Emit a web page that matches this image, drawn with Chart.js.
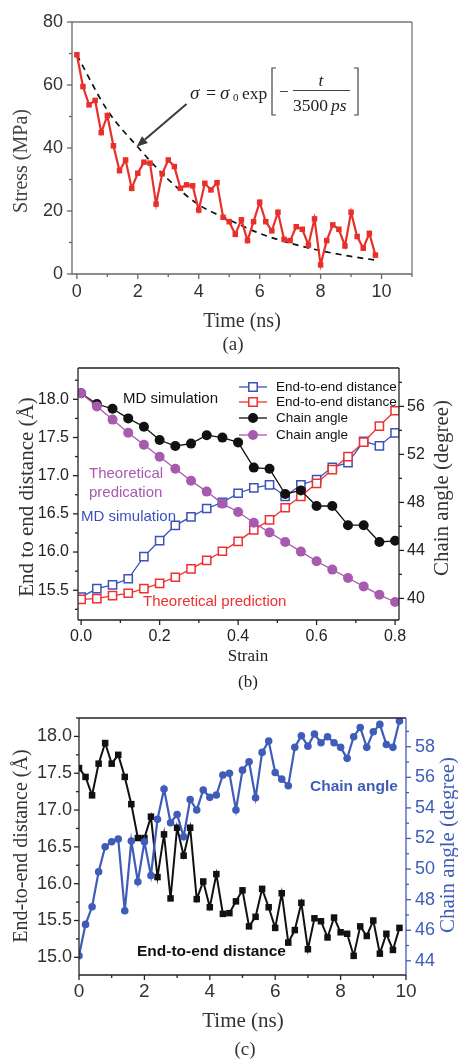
<!DOCTYPE html>
<html>
<head>
<meta charset="utf-8">
<script src="https://cdn.jsdelivr.net/npm/chart.js@4.4.0/dist/chart.umd.min.js"></script>
<style>
  body { margin: 0; background: #fff; }
  #wrap { position: relative; width: 458px; height: 1060px; overflow: hidden; background: #fff; }
  canvas { position: absolute; left: 0; }
</style>
</head>
<body>
<div id="wrap">
  <canvas id="chartA" width="458" height="355" style="top:0px"></canvas>
  <canvas id="chartB" width="458" height="335" style="top:355px"></canvas>
  <canvas id="chartC" width="458" height="370" style="top:690px"></canvas>
</div>
<script>
// ---- panel (a): stress relaxation ----
const timeA = [0, 0.2, 0.4, 0.6, 0.8, 1, 1.2, 1.4, 1.6, 1.8,
  2, 2.2, 2.4, 2.6, 2.8, 3, 3.2, 3.4, 3.6, 3.8,
  4, 4.2, 4.4, 4.6, 4.8, 5, 5.2, 5.4, 5.6, 5.8,
  6, 6.2, 6.4, 6.6, 6.8, 7, 7.2, 7.4, 7.6, 7.8,
  8, 8.2, 8.4, 8.6, 8.8, 9, 9.2, 9.4, 9.6, 9.8];
const stressA = [69.6, 59.5, 53.7, 55.1, 44.9, 50.3, 40.7, 32.8, 36.2, 27.2,
  32.0, 35.5, 35.2, 22.2, 31.8, 36.2, 34.1, 27.2, 28.3, 28.0,
  20.3, 28.8, 26.7, 29.0, 18.0, 16.6, 12.6, 17.2, 10.6, 16.6,
  22.8, 16.6, 13.7, 19.6, 11.0, 10.6, 15.0, 14.2, 9.2, 17.5,
  2.9, 10.6, 15.6, 14.2, 8.9, 19.6, 11.9, 8.2, 12.9, 6.0];
const fitTime = [0, 1, 2, 3, 4, 5, 6, 7, 8, 9, 9.8];
const fitStress = [69.5, 52, 40.3, 30, 22, 17.2, 12.9, 9.8, 7.4, 5.6, 4.4];
const arrowFrom = [3.6, 54.0];
const arrowTo = [1.96, 40.4];

// ---- panel (b): strain dependence ----
const strainB = [0, 0.04, 0.08, 0.12, 0.16, 0.2, 0.24, 0.28, 0.32, 0.36, 0.4,
  0.44, 0.48, 0.52, 0.56, 0.6, 0.64, 0.68, 0.72, 0.76, 0.8];
const distMD = [15.41, 15.52, 15.57, 15.65, 15.94, 16.15, 16.35, 16.46, 16.57, 16.65, 16.77,
  16.84, 16.88, 16.73, 16.88, 16.95, 17.11, 17.17, 17.45, 17.39, 17.56];
const distTheory = [15.38, 15.39, 15.43, 15.46, 15.52, 15.59, 15.67, 15.78, 15.89, 16.01, 16.14,
  16.29, 16.42, 16.58, 16.73, 16.90, 17.08, 17.25, 17.44, 17.65, 17.85];
const angleMD = [57.1, 56.2, 55.8, 55.0, 54.3, 53.2, 52.7, 52.9, 53.6, 53.4, 53.0,
  50.9, 50.8, 48.7, 49.0, 47.7, 47.7, 46.1, 46.1, 44.7, 44.8];
const angleTheory = [57.1, 56.0, 54.9, 53.8, 52.8, 51.8, 50.8, 49.8, 48.9, 47.9, 47.2,
  46.3, 45.5, 44.7, 43.9, 43.1, 42.4, 41.7, 41.0, 40.3, 39.7];
const legendB = ["End-to-end distance", "End-to-end distance", "Chain angle", "Chain angle"];

// ---- panel (c): time dependence ----
const timeC = [0, 0.2, 0.4, 0.6, 0.8, 1, 1.2, 1.4, 1.6, 1.8,
  2, 2.2, 2.4, 2.6, 2.8, 3, 3.2, 3.4, 3.6, 3.8,
  4, 4.2, 4.4, 4.6, 4.8, 5, 5.2, 5.4, 5.6, 5.8,
  6, 6.2, 6.4, 6.6, 6.8, 7, 7.2, 7.4, 7.6, 7.8,
  8, 8.2, 8.4, 8.6, 8.8, 9, 9.2, 9.4, 9.6, 9.8];
const distC = [17.57, 17.45, 17.20, 17.63, 17.91, 17.63, 17.75, 17.45, 17.08, 16.62,
  16.62, 16.91, 16.09, 16.67, 15.80, 16.76, 16.38, 16.76, 15.79, 16.03,
  15.68, 16.13, 15.59, 15.60, 15.76, 15.91, 15.42, 15.55, 15.93, 15.68,
  15.40, 15.87, 15.20, 15.37, 15.74, 15.11, 15.53, 15.49, 15.27, 15.54,
  15.34, 15.32, 15.02, 15.42, 15.29, 15.50, 15.05, 15.32, 15.10, 15.40];
const angleC = [44.33, 46.38, 47.53, 49.82, 51.46, 51.79, 51.96, 47.27, 51.83, 49.17,
  51.79, 49.58, 53.25, 55.23, 53.03, 53.57, 52.11, 54.55, 53.86, 55.17,
  54.69, 54.84, 56.15, 56.26, 53.86, 56.47, 57.02, 54.66, 57.63, 58.37,
  56.32, 55.88, 55.45, 57.96, 58.72, 58.04, 58.83, 58.26, 58.65, 58.26,
  57.96, 57.24, 58.65, 59.26, 57.96, 58.98, 59.46, 58.15, 57.96, 59.68];

const SERIF = '"Liberation Serif", "Times New Roman", serif';
const SANS = '"Liberation Sans", Arial, sans-serif';
const RED = "#e8302a";
const BLUE_B = "#3b52b6";
const RED_B = "#ee3030";
const PURPLE = "#a75aae";
const BLUE_C = "#3f5db8";

Chart.defaults.font.family = SANS;

function xy(xs, ys) {
  return xs.map((x, i) => ({ x: x, y: ys[i] }));
}

// fixed-size axis so the plot frame lands where the figure has it
function axis(pos, min, max, step, size, pad, color, fontSize, fmt) {
  return {
    type: "linear",
    position: pos,
    min: min,
    max: max,
    grid: { display: false, drawTicks: false },
    border: { display: false },
    ticks: {
      stepSize: step,
      includeBounds: false,
      padding: pad,
      color: color,
      font: { family: SANS, size: fontSize },
      callback: fmt
    },
    afterFit(s) {
      if (pos === "bottom") s.height = size; else s.width = size;
      s.paddingTop = 0; s.paddingBottom = 0; s.paddingLeft = 0; s.paddingRight = 0;
    }
  };
}

// frame + outward major/minor ticks
function axesPlugin(cfg) {
  return {
    id: "axes",
    afterDatasetsDraw(chart) {
      const ctx = chart.ctx;
      const a = chart.chartArea;
      ctx.save();
      ctx.lineWidth = cfg.lineWidth;
      const seg = (c, x1, y1, x2, y2) => {
        ctx.strokeStyle = c;
        ctx.beginPath();
        ctx.moveTo(x1, y1);
        ctx.lineTo(x2, y2);
        ctx.stroke();
      };
      seg(cfg.frame.top, a.left, a.top, a.right, a.top);
      seg(cfg.frame.bottom, a.left, a.bottom, a.right, a.bottom);
      seg(cfg.frame.left, a.left, a.top, a.left, a.bottom);
      seg(cfg.frame.right, a.right, a.top, a.right, a.bottom);
      cfg.ticks.forEach((t) => {
        const s = chart.scales[t.id];
        const k0 = Math.ceil(s.min / t.minor - 1e-6);
        const k1 = Math.floor(s.max / t.minor + 1e-6);
        for (let k = k0; k <= k1; k++) {
          const v = k * t.minor;
          const major = Math.abs(v / t.major - Math.round(v / t.major)) < 1e-6;
          const len = major ? t.len : t.len * 0.6;
          const p = s.getPixelForValue(v);
          if (t.side === "left") seg(t.color, a.left, p, a.left - len, p);
          else if (t.side === "right") seg(t.color, a.right, p, a.right + len, p);
          else seg(t.color, p, a.bottom, p, a.bottom + len);
        }
      });
      ctx.restore();
    }
  };
}

function textPlugin(items) {
  return {
    id: "texts",
    afterDraw(chart) {
      const ctx = chart.ctx;
      items.forEach((t) => {
        ctx.save();
        ctx.font = t.font;
        ctx.fillStyle = t.color || "#222";
        ctx.textAlign = t.align || "center";
        ctx.textBaseline = "middle";
        ctx.translate(t.x, t.y);
        if (t.rot) ctx.rotate(t.rot);
        ctx.fillText(t.text, 0, 0);
        ctx.restore();
      });
    }
  };
}

const baseOptions = {
  responsive: false,
  animation: false,
  events: [],
  plugins: { legend: { display: false }, tooltip: { enabled: false } }
};

// ================= (a) =================
const formulaPlugin = {
  id: "formula",
  afterDraw(chart) {
    const ctx = chart.ctx;
    const sx = chart.scales.x, sy = chart.scales.y;
    ctx.save();
    // arrow
    const x1 = sx.getPixelForValue(arrowFrom[0]), y1 = sy.getPixelForValue(arrowFrom[1]);
    const x2 = sx.getPixelForValue(arrowTo[0]), y2 = sy.getPixelForValue(arrowTo[1]);
    const ang = Math.atan2(y2 - y1, x2 - x1);
    const hl = 11, hw = 4.5;
    const bx = x2 - hl * Math.cos(ang), by = y2 - hl * Math.sin(ang);
    ctx.strokeStyle = "#3a3a3a";
    ctx.fillStyle = "#3a3a3a";
    ctx.lineWidth = 2;
    ctx.beginPath(); ctx.moveTo(x1, y1); ctx.lineTo(bx, by); ctx.stroke();
    ctx.beginPath();
    ctx.moveTo(x2, y2);
    ctx.lineTo(bx + hw * Math.sin(ang), by - hw * Math.cos(ang));
    ctx.lineTo(bx - hw * Math.sin(ang), by + hw * Math.cos(ang));
    ctx.closePath(); ctx.fill();

    // sigma = sigma0 exp[ - t / 3500 ps ]
    const base = 99;
    ctx.fillStyle = "#222";
    ctx.textBaseline = "alphabetic";
    ctx.textAlign = "left";
    ctx.font = "italic 19px " + SERIF; ctx.fillText("σ", 190, base);
    ctx.font = "18px " + SERIF; ctx.fillText("=", 206, base);
    ctx.font = "italic 19px " + SERIF; ctx.fillText("σ", 220, base);
    ctx.font = "11px " + SERIF; ctx.fillText("0", 233, base + 2);
    ctx.font = "17.5px " + SERIF; ctx.fillText("exp", 242, base);
    ctx.fillText("−", 279, base - 2);
    ctx.textAlign = "center";
    ctx.font = "italic 17.5px " + SERIF; ctx.fillText("t", 321, 86);
    ctx.font = "17.5px " + SERIF; ctx.textAlign = "left"; ctx.fillText("3500", 293, 111);
    ctx.font = "italic 17.5px " + SERIF; ctx.fillText("ps", 331, 111);
    ctx.strokeStyle = "#444"; ctx.lineWidth = 1.1;
    ctx.beginPath(); ctx.moveTo(293, 90.5); ctx.lineTo(350, 90.5); ctx.stroke();
    ctx.lineWidth = 1.2;
    ctx.beginPath();
    ctx.moveTo(276, 68); ctx.lineTo(272, 68); ctx.lineTo(272, 115); ctx.lineTo(276, 115);
    ctx.moveTo(354, 68); ctx.lineTo(358, 68); ctx.lineTo(358, 115); ctx.lineTo(354, 115);
    ctx.stroke();
    ctx.restore();
  }
};

new Chart(document.getElementById("chartA"), {
  type: "line",
  data: {
    datasets: [
      {
        data: xy(timeA, stressA),
        borderColor: RED,
        backgroundColor: RED,
        borderWidth: 2.2,
        pointStyle: "rect",
        pointRadius: 3.9,
        pointBackgroundColor: RED,
        pointBorderWidth: 0,
        tension: 0,
        order: 0
      },
      {
        data: xy(fitTime, fitStress),
        borderColor: "#111",
        borderWidth: 1.7,
        borderDash: [6, 5],
        pointRadius: 0,
        cubicInterpolationMode: "monotone",
        order: 1
      }
    ]
  },
  options: {
    ...baseOptions,
    layout: { padding: { top: 22, right: 46, left: 0, bottom: 0 } },
    scales: {
      x: axis("bottom", -0.16, 11, 2, 81, 7, "#333", 18, (v) => v),
      y: axis("left", 0, 80, 20, 72, 9, "#333", 18, (v) => v)
    }
  },
  plugins: [
    axesPlugin({
      lineWidth: 1.3,
      frame: { top: "#777", bottom: "#666", left: "#666", right: "#777" },
      ticks: [
        { id: "x", side: "bottom", major: 2, minor: 1, len: 5, color: "#666" },
        { id: "y", side: "left", major: 20, minor: 10, len: 5, color: "#666" }
      ]
    }),
    formulaPlugin,
    textPlugin([
      { text: "Stress (MPa)", x: 22, y: 161, rot: -Math.PI / 2, font: "20px " + SERIF, color: "#444" },
      { text: "Time (ns)", x: 242, y: 322, font: "20px " + SERIF, color: "#333" },
      { text: "(a)", x: 233, y: 345, font: "19px " + SERIF, color: "#333" }
    ])
  ]
});

// ================= (b) =================
const legendPlugin = {
  id: "legendB",
  afterDraw(chart) {
    const ctx = chart.ctx;
    const rows = [32, 47, 63, 80];
    const metas = [2, 3, 0, 1];
    ctx.save();
    rows.forEach((y, i) => {
      const ds = chart.data.datasets[metas[i]];
      ctx.strokeStyle = ds.borderColor;
      ctx.lineWidth = 1.3;
      ctx.beginPath(); ctx.moveTo(239, y); ctx.lineTo(267, y); ctx.stroke();
      ctx.fillStyle = ds.pointBackgroundColor;
      ctx.strokeStyle = ds.borderColor;
      ctx.lineWidth = ds.pointBorderWidth || 1;
      ctx.beginPath();
      if (ds.pointStyle === "rect") {
        ctx.rect(253 - 4.2, y - 4.2, 8.4, 8.4);
        ctx.fill(); ctx.stroke();
      } else {
        ctx.arc(253, y, 5, 0, Math.PI * 2);
        ctx.fill();
      }
      ctx.fillStyle = "#111";
      ctx.font = "13.5px " + SANS;
      ctx.textAlign = "left";
      ctx.textBaseline = "middle";
      ctx.fillText(legendB[i], 276, y + 0.5);
    });
    ctx.restore();
  }
};

new Chart(document.getElementById("chartB"), {
  type: "line",
  data: {
    datasets: [
      {
        data: xy(strainB, angleMD),
        yAxisID: "y1",
        borderColor: "#111",
        borderWidth: 1.3,
        pointStyle: "circle",
        pointRadius: 5,
        pointBackgroundColor: "#111",
        pointBorderWidth: 0,
        order: 1
      },
      {
        data: xy(strainB, angleTheory),
        yAxisID: "y1",
        borderColor: PURPLE,
        borderWidth: 1.3,
        pointStyle: "circle",
        pointRadius: 5,
        pointBackgroundColor: PURPLE,
        pointBorderWidth: 0,
        order: 0
      },
      {
        data: xy(strainB, distMD),
        yAxisID: "y",
        borderColor: BLUE_B,
        borderWidth: 1.3,
        pointStyle: "rect",
        pointRadius: 5.8,
        pointBackgroundColor: "#fff",
        pointBorderColor: BLUE_B,
        pointBorderWidth: 1.5,
        order: 3
      },
      {
        data: xy(strainB, distTheory),
        yAxisID: "y",
        borderColor: RED_B,
        borderWidth: 1.3,
        pointStyle: "rect",
        pointRadius: 5.8,
        pointBackgroundColor: "#fff",
        pointBorderColor: RED_B,
        pointBorderWidth: 1.5,
        order: 2
      }
    ]
  },
  options: {
    ...baseOptions,
    layout: { padding: { top: 13, right: 0, left: 0, bottom: 0 } },
    scales: {
      x: axis("bottom", -0.008, 0.81, 0.2, 70, 7, "#222", 16, (v) => Number(v).toFixed(1)),
      y: axis("left", 15.11, 18.41, 0.5, 78, 9, "#222", 16, (v) => Number(v).toFixed(1)),
      y1: axis("right", 38.2, 59.2, 4, 59, 8, "#222", 16, (v) => v)
    }
  },
  plugins: [
    axesPlugin({
      lineWidth: 1.3,
      frame: { top: "#222", bottom: "#222", left: "#222", right: "#222" },
      ticks: [
        { id: "x", side: "bottom", major: 0.2, minor: 0.1, len: 5, color: "#222" },
        { id: "y", side: "left", major: 0.5, minor: 0.25, len: 5, color: "#222" },
        { id: "y1", side: "right", major: 4, minor: 2, len: 5, color: "#222" }
      ]
    }),
    legendPlugin,
    textPlugin([
      { text: "End to end distance (Å)", x: 27, y: 142, rot: -Math.PI / 2, font: "21px " + SERIF, color: "#333" },
      { text: "Chain angle (degree)", x: 442, y: 133, rot: -Math.PI / 2, font: "21px " + SERIF, color: "#333" },
      { text: "Strain", x: 248, y: 302, font: "17px " + SERIF, color: "#222" },
      { text: "(b)", x: 248, y: 328, font: "17px " + SERIF, color: "#222" },
      { text: "MD simulation", x: 123, y: 44, align: "left", font: "15px " + SANS, color: "#111" },
      { text: "Theoretical", x: 89, y: 119, align: "left", font: "15px " + SANS, color: PURPLE },
      { text: "predication", x: 89, y: 138, align: "left", font: "15px " + SANS, color: PURPLE },
      { text: "MD simulation", x: 81, y: 162, align: "left", font: "15px " + SANS, color: BLUE_B },
      { text: "Theoretical prediction", x: 143, y: 247, align: "left", font: "15px " + SANS, color: RED_B }
    ])
  ]
});

// ================= (c) =================
new Chart(document.getElementById("chartC"), {
  type: "line",
  data: {
    datasets: [
      {
        data: xy(timeC, angleC),
        yAxisID: "y1",
        borderColor: BLUE_C,
        borderWidth: 2.2,
        pointStyle: "circle",
        pointRadius: 3.8,
        pointBackgroundColor: BLUE_C,
        pointBorderWidth: 0,
        order: 0
      },
      {
        data: xy(timeC, distC),
        yAxisID: "y",
        borderColor: "#111",
        borderWidth: 2,
        pointStyle: "rect",
        pointRadius: 4.6,
        pointBackgroundColor: "#111",
        pointBorderWidth: 0,
        order: 1
      }
    ]
  },
  options: {
    ...baseOptions,
    layout: { padding: { top: 28, right: 0, left: 0, bottom: 0 } },
    scales: {
      x: axis("bottom", 0, 10, 2, 85, 5.6, "#333", 19, (v) => v),
      y: axis("left", 14.76, 18.25, 0.5, 79, 7, "#333", 18, (v) => Number(v).toFixed(1)),
      y1: axis("right", 43.07, 59.88, 2, 52, 9, BLUE_C, 18, (v) => v)
    }
  },
  plugins: [
    axesPlugin({
      lineWidth: 1.3,
      frame: { top: "#222", bottom: "#222", left: "#222", right: BLUE_C },
      ticks: [
        { id: "x", side: "bottom", major: 2, minor: 1, len: 5, color: "#222" },
        { id: "y", side: "left", major: 0.5, minor: 0.25, len: 5, color: "#222" },
        { id: "y1", side: "right", major: 2, minor: 1, len: 5, color: BLUE_C }
      ]
    }),
    textPlugin([
      { text: "End-to-end distance (Å)", x: 22, y: 156, rot: -Math.PI / 2, font: "20px " + SERIF, color: "#333" },
      { text: "Chain angle (degree)", x: 448, y: 155, rot: -Math.PI / 2, font: "21px " + SERIF, color: BLUE_C },
      { text: "Time (ns)", x: 243, y: 331, font: "21px " + SERIF, color: "#333" },
      { text: "(c)", x: 245, y: 360, font: "19px " + SERIF, color: "#333" },
      { text: "Chain angle", x: 310, y: 97, align: "left", font: "bold 15.5px " + SANS, color: BLUE_C },
      { text: "End-to-end distance", x: 137, y: 262, align: "left", font: "bold 15.5px " + SANS, color: "#111" }
    ])
  ]
});
</script>
</body>
</html>
